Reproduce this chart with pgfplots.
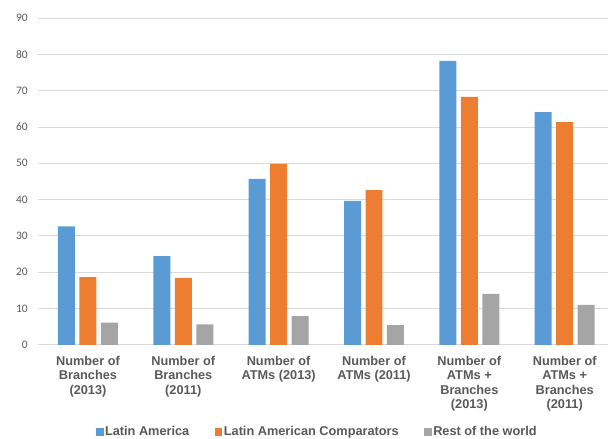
\documentclass[border=0pt]{standalone}
\usepackage{pgfplots}
\pgfplotsset{compat=1.18}
\usepackage{fontspec}
\setmainfont{Liberation Sans}
\newfontfamily\carlito{Carlito}

\definecolor{laBlue}{HTML}{5B9BD5}
\definecolor{lacOrange}{HTML}{ED7D31}
\definecolor{rowGray}{HTML}{A5A5A5}
\definecolor{gridGray}{HTML}{D9D9D9}
\definecolor{textGray}{HTML}{595959}

\begin{document}
\begin{tikzpicture}
\begin{axis}[
  scale only axis,
  width=570bp, height=327bp,
  ymin=0, ymax=90,
  ytick={0,10,...,90},
  xmin=-0.524, xmax=5.45,
  xtick=data,
  xticklabels={
    {Number of\\Branches\\(2013)},
    {Number of\\Branches\\(2011)},
    {Number of\\ATMs (2013)},
    {Number of\\ATMs (2011)},
    {Number of\\ATMs +\\Branches\\(2013)},
    {Number of\\ATMs +\\Branches\\(2011)}},
  xticklabel style={font=\bfseries\fontsize{12.8}{14.5}\selectfont, text=textGray,
    align=center, anchor=north, inner sep=0pt, yshift=-11bp},
  yticklabel style={font=\carlito\fontsize{11.5}{13}\selectfont, text=textGray,
    anchor=east, inner sep=0pt, xshift=-10bp},
  /pgf/number format/assume math mode=true,
  major tick length=0,
  axis line style={draw=none},
  ymajorgrids,
  grid style={gridGray, line width=0.8bp},
  ybar=4.5bp,
  bar width=17bp,
  legend columns=3,
  legend style={at={(0.49,0)}, anchor=center, yshift=-87bp, draw=none,
    inner sep=0pt,
    nodes={font=\fontsize{12.8}{14.5}\selectfont, text=textGray, inner sep=1.5bp},
    /tikz/every even column/.append style={column sep=24bp}},
  legend image code/.code={\fill[#1] (0bp,-3.8bp) rectangle (7.5bp,3.8bp);},
]
% Latin America
\addplot[draw=none, fill=laBlue] coordinates
  {(0,32.6) (1,24.4) (2,45.7) (3,39.6) (4,78.2) (5,64.1)};
\addlegendentry{\textbf{Latin America}}
% Latin American Comparators
\addplot[draw=none, fill=lacOrange] coordinates
  {(0,18.6) (1,18.4) (2,49.8) (3,42.6) (4,68.3) (5,61.3)};
\addlegendentry{\textbf{Latin American Comparators}}
% Rest of the world
\addplot[draw=none, fill=rowGray] coordinates
  {(0,6.1) (1,5.6) (2,7.9) (3,5.4) (4,14.0) (5,11.0)};
\addlegendentry{\textbf{Rest of the world}}
\end{axis}
\path[use as bounding box] (-38bp,-94bp) rectangle (570bp,345bp);
\end{tikzpicture}
\end{document}
